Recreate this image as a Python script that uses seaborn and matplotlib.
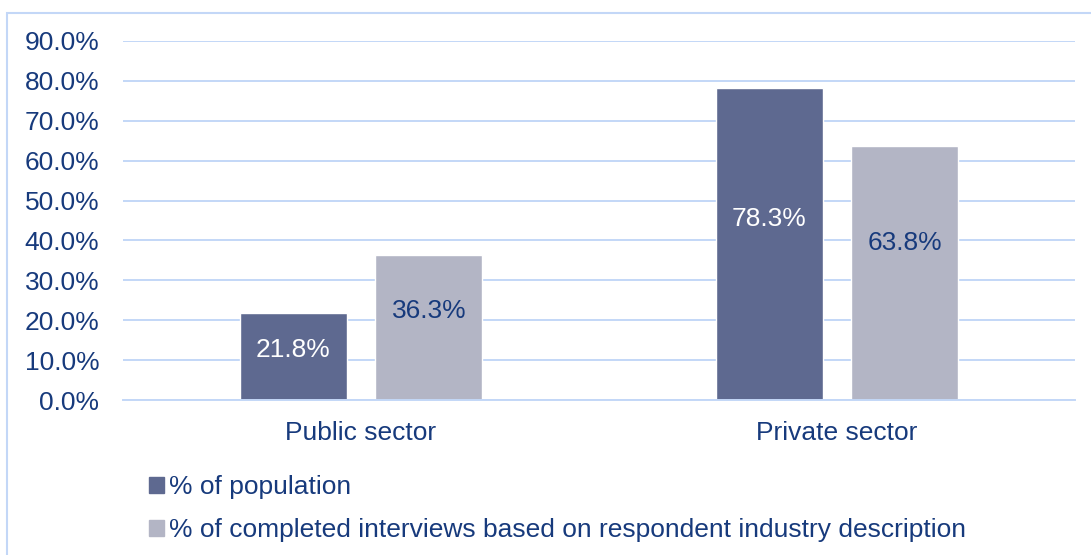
import matplotlib
matplotlib.use("Agg")
import matplotlib.pyplot as plt
import matplotlib.patches as mpatches
import matplotlib.ticker as mticker
import seaborn as sns
import pandas as pd

categories = ["Public sector", "Private sector"]
series_names = [
    "% of population",
    "% of completed interviews based on respondent industry description",
]
population = [21.8, 78.3]
interviews = [36.3, 63.8]
y_ticks = [0, 10, 20, 30, 40, 50, 60, 70, 80, 90]

dark = "#5E6990"
light = "#B3B5C5"
text_col = "#173A7C"
grid_col = "#C3D7F7"
fs = 19

df = pd.DataFrame({
    "sector": categories * 2,
    "series": [series_names[0]] * 2 + [series_names[1]] * 2,
    "value": population + interviews,
})

sns.set_theme(style="white")
plt.rcParams["font.family"] = ["Liberation Sans", "DejaVu Sans"]

fig = plt.figure(figsize=(10.91, 5.55), dpi=100)
ax = fig.add_axes([123 / 1091, 1 - 400 / 555, (1075 - 123) / 1091, (400 - 41) / 555])

sns.barplot(data=df, x="sector", y="value", hue="series", order=categories,
            hue_order=series_names, palette=[dark, light], width=0.571, gap=0.2125,
            ax=ax, legend=False, saturation=1)

ax.set_ylim(0, 90)
ax.set_xlim(-0.5, 1.5)
ax.set_yticks(y_ticks)
ax.yaxis.set_major_formatter(mticker.FuncFormatter(lambda v, p: f"{v:.1f}%"))
ax.grid(axis="y", color=grid_col, linewidth=1.4)
ax.set_axisbelow(True)
for s in ["top", "right", "left"]:
    ax.spines[s].set_visible(False)
ax.spines["bottom"].set_color(grid_col)
ax.spines["bottom"].set_linewidth(1.4)
ax.tick_params(axis="y", length=0, pad=17, labelsize=fs, labelcolor=text_col)
ax.tick_params(axis="x", length=0, pad=15, labelsize=fs, labelcolor=text_col)
ax.set_xlabel("")
ax.set_ylabel("")

# value labels inside the bars
containers = ax.containers
for cont, vals, col, frac in [(containers[0], population, "white", 0.58),
                              (containers[1], interviews, text_col, 0.615)]:
    for rect, v in zip(cont, vals):
        ax.text(rect.get_x() + rect.get_width() / 2, v * frac, f"{v:.1f}%",
                ha="center", va="center", fontsize=fs, color=col)

# legend stacked below the plot
handles = [mpatches.Patch(color=dark, label=series_names[0]),
           mpatches.Patch(color=light, label=series_names[1])]
fig.legend(handles=handles, loc="center left", bbox_to_anchor=(149 / 1091, 1 - 508.5 / 555),
           frameon=False, fontsize=fs, labelcolor=text_col, handlelength=0.55,
           handleheight=0.55, handletextpad=0.2, labelspacing=0.72, borderaxespad=0,
           borderpad=0)

# outer chart frame
frame = mpatches.Rectangle((7 / 1091, -0.05), 1.2, 1 - 13 / 555 + 0.05, transform=fig.transFigure,
                           fill=False, edgecolor=grid_col, linewidth=1.5)
fig.patches.append(frame)

fig.savefig("out.png", dpi=100)
